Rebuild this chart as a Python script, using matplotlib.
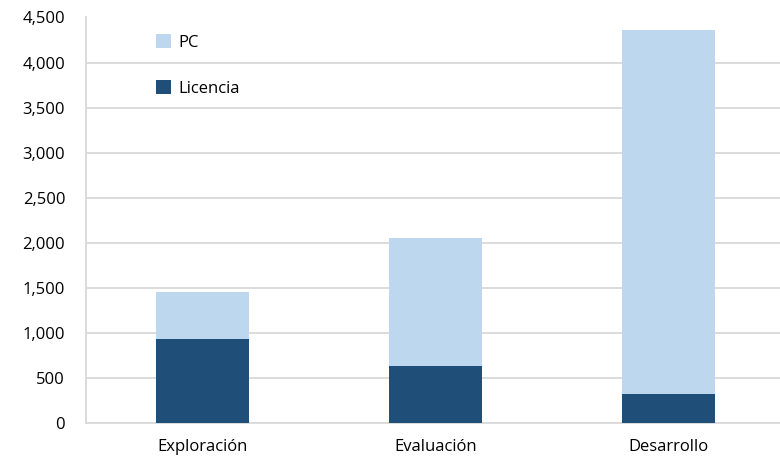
import matplotlib
matplotlib.use("Agg")
import matplotlib.pyplot as plt
from matplotlib.ticker import FuncFormatter

categories = ["Exploración", "Evaluación", "Desarrollo"]
licencia = [940, 630, 320]
pc = [515, 1425, 4045]
yticks = [0, 500, 1000, 1500, 2000, 2500, 3000, 3500, 4000, 4500]

plt.rcParams['font.family'] = ['Open Sans', 'DejaVu Sans']

W, H = 780, 459
fig = plt.figure(figsize=(W / 100, H / 100), dpi=100)
left, right = 86, 784.5
bottom, top = 423.3, 17.5
ax = fig.add_axes([left / W, 1 - bottom / H, (right - left) / W, (bottom - top) / H])

x = list(range(len(categories)))
b1 = ax.bar(x, licencia, width=0.4, color="#1F4E79", label="Licencia", zorder=3)
b2 = ax.bar(x, pc, width=0.4, bottom=licencia, color="#BDD7EE", label="PC", zorder=3)

ax.set_xlim(-0.5, 2.5)
ax.set_ylim(0, 4500)
ax.set_yticks(yticks)
ax.yaxis.set_major_formatter(FuncFormatter(lambda v, p: f"{int(v):,}"))
ax.set_xticks(x)
ax.set_xticklabels(categories)
ax.tick_params(axis='y', length=0, pad=15, labelsize=12, colors="#000000")
ax.tick_params(axis='x', length=0, pad=11.5, labelsize=12, colors="#000000")

ax.grid(axis='y', color="#D9D9D9", linewidth=1.3, zorder=0)
for s in ["top", "right"]:
    ax.spines[s].set_visible(False)
for s in ["left", "bottom"]:
    ax.spines[s].set_color("#D9D9D9")
    ax.spines[s].set_linewidth(1.3)

leg = ax.legend(handles=[b2, b1], labels=["PC", "Licencia"], loc="upper left",
                bbox_to_anchor=(0.091, 0.975), frameon=False, fontsize=12,
                handlelength=0.9, handleheight=0.9, handletextpad=0.4,
                labelspacing=1.75, borderaxespad=0)

fig.savefig("out.png", dpi=100)
